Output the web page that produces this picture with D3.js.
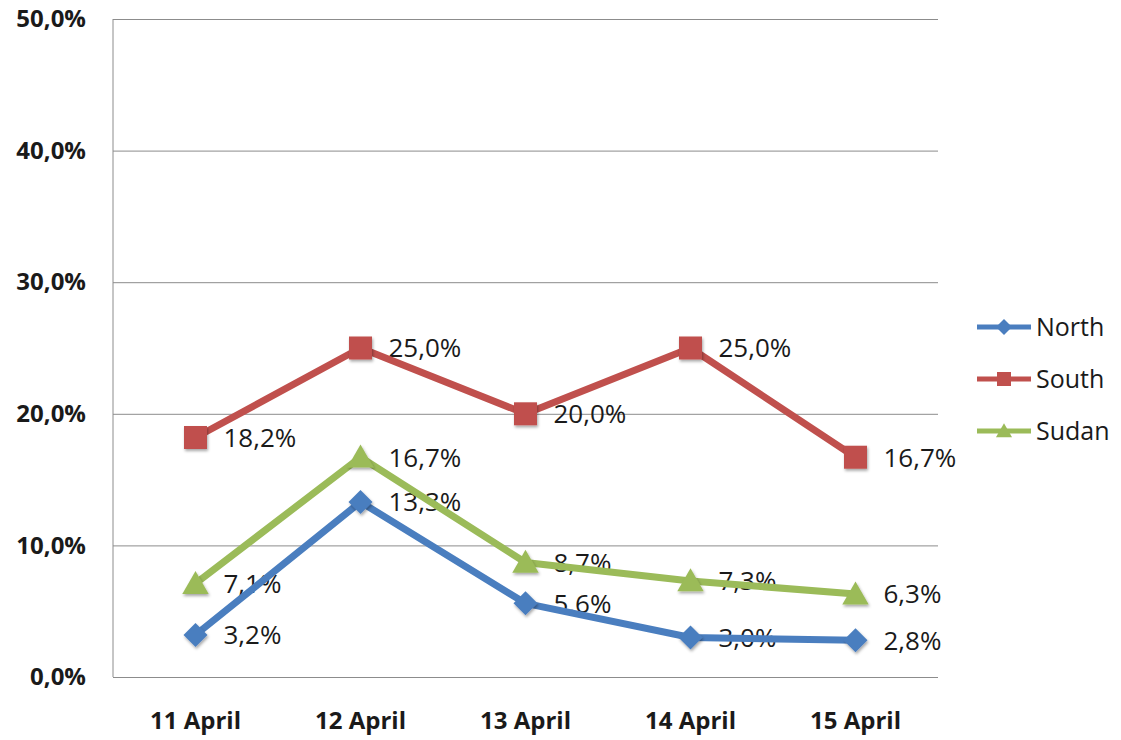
<!DOCTYPE html>
<html>
<head>
<meta charset="utf-8">
<script src="https://cdn.jsdelivr.net/npm/d3@7"></script>
<style>
  html, body { margin: 0; padding: 0; background: #fff; }
  svg { display: block; }
  text { font-family: "Open Sans", "Noto Sans", sans-serif; fill: #1a1a1a; }
</style>
</head>
<body>
<svg id="chart" width="1121" height="740"></svg>
<script>
// Share of cases per day by region
const days = ["11 April", "12 April", "13 April", "14 April", "15 April"];
const north = [3.2, 13.3, 5.6, 3.0, 2.8];
const south = [18.2, 25.0, 20.0, 25.0, 16.7];
const sudan = [7.1, 16.7, 8.7, 7.3, 6.3];
const yTicks = [0, 10, 20, 30, 40, 50];

const series = [
  { name: "North", values: north, color: "#4a7ebf", marker: "diamond" },
  { name: "South", values: south, color: "#c0504d", marker: "square" },
  { name: "Sudan", values: sudan, color: "#9bbb59", marker: "triangle" }
];

const svg = d3.select("#chart");
const plot = { left: 113, right: 938, top: 19, bottom: 677 };

const x = d3.scaleBand().domain(days).range([plot.left, plot.right]);
const y = d3.scaleLinear().domain([0, 50]).range([plot.bottom, plot.top]);
const fmt = v => v.toFixed(1).replace(".", ",") + "%";

// soft shadow under markers
const defs = svg.append("defs");
const f = defs.append("filter").attr("id", "shadow").attr("x", "-50%").attr("y", "-50%").attr("width", "200%").attr("height", "200%");
f.append("feDropShadow").attr("dx", 1).attr("dy", 2).attr("stdDeviation", 1.5).attr("flood-color", "#000").attr("flood-opacity", 0.35);

// gridlines
svg.append("g")
  .attr("transform", `translate(${plot.left},0)`)
  .call(d3.axisLeft(y).tickValues(yTicks).tickSize(-(plot.right - plot.left)).tickFormat(""))
  .call(g => g.select(".domain").remove())
  .call(g => g.selectAll("line").attr("stroke", "#8c8c8c").attr("stroke-width", 1));

// left axis line
svg.append("line")
  .attr("x1", plot.left).attr("x2", plot.left)
  .attr("y1", plot.top).attr("y2", plot.bottom)
  .attr("stroke", "#8c8c8c").attr("stroke-width", 1);

// y tick labels
svg.append("g")
  .attr("transform", `translate(${plot.left},0)`)
  .call(d3.axisLeft(y).tickValues(yTicks).tickSize(0).tickPadding(27).tickFormat(d => d.toFixed(1).replace(".", ",") + "%"))
  .call(g => g.select(".domain").remove())
  .call(g => g.selectAll("text")
    .style("font-family", "'Open Sans', sans-serif")
    .style("font-size", "24px").style("font-weight", "bold").attr("fill", "#1a1a1a"));

// x tick labels
svg.append("g")
  .attr("transform", `translate(0,${plot.bottom})`)
  .call(d3.axisBottom(x).tickSize(0).tickPadding(35))
  .call(g => g.select(".domain").remove())
  .call(g => g.selectAll("text")
    .style("font-family", "'Open Sans', sans-serif")
    .style("font-size", "24px").style("font-weight", "bold").attr("fill", "#1a1a1a"));

const cx = d => x(d) + x.bandwidth() / 2;

// diamond = square turned 45°
const markerPath = (m, s) => {
  if (m === "diamond") return `M0,${-s}L${s},0L0,${s}L${-s},0Z`;
  if (m === "square") return `M${-s},${-s}H${s}V${s}H${-s}Z`;
  return `M0,${-s * 1.1}L${s * 1.15},${s * 0.9}H${-s * 1.15}Z`;
};

// data labels (drawn beneath the lines)
series.forEach(s => {
  svg.append("g").selectAll("text").data(s.values).join("text")
    .attr("x", (v, i) => cx(days[i]) + 28)
    .attr("y", v => y(v))
    .attr("dy", "0.36em")
    .style("font-size", "26px")
    .text(fmt);
});

const line = d3.line().x((v, i) => cx(days[i])).y(v => y(v));

series.forEach(s => {
  svg.append("path")
    .datum(s.values)
    .attr("d", line)
    .attr("fill", "none")
    .attr("stroke", s.color)
    .attr("stroke-width", 7)
    .attr("stroke-linejoin", "round");
  svg.append("g").selectAll("path").data(s.values).join("path")
    .attr("transform", (v, i) => `translate(${cx(days[i])},${y(v)})`)
    .attr("d", markerPath(s.marker, s.marker === "diamond" ? 12 : 11.5))
    .attr("fill", s.color)
    .attr("filter", "url(#shadow)");
});

// legend
const legend = svg.append("g");
series.forEach((s, i) => {
  const ly = 327 + i * 52;
  legend.append("line")
    .attr("x1", 977).attr("x2", 1031).attr("y1", ly).attr("y2", ly)
    .attr("stroke", s.color).attr("stroke-width", 5);
  legend.append("path")
    .attr("transform", `translate(1004,${ly})`)
    .attr("d", markerPath(s.marker, s.marker === "diamond" ? 8 : 7))
    .attr("fill", s.color);
  legend.append("text")
    .attr("x", 1036).attr("y", ly).attr("dy", "0.36em")
    .style("font-size", "25px")
    .text(s.name);
});
</script>
</body>
</html>
